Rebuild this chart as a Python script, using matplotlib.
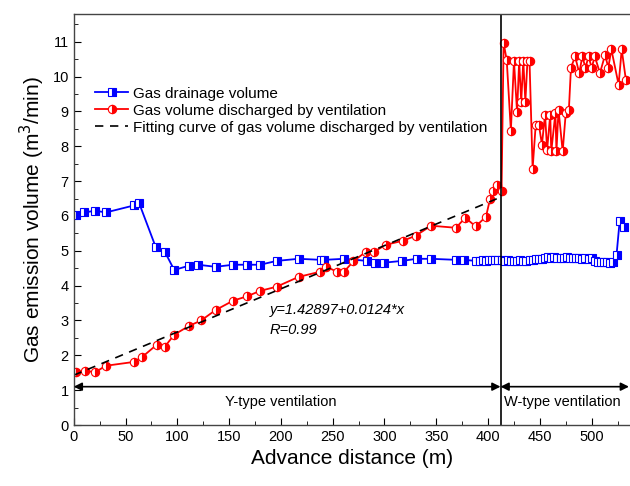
import numpy as np
import matplotlib.pyplot as plt
from matplotlib.ticker import MultipleLocator

plt.rcParams['font.family'] = ['Liberation Sans', 'DejaVu Sans']

# Gas drainage volume (blue)
drain_x = [2, 10, 21, 31, 58, 63, 79, 88, 97, 111, 120, 137, 154, 167, 180, 196, 217, 239, 242,
           261, 283, 291, 300, 317, 331, 345, 369, 377, 388, 392, 395, 398, 401, 404, 407, 410,
           413, 416, 419, 422, 425, 428, 431, 434, 437, 440, 443, 446, 449, 452, 455, 458, 461,
           464, 467, 470, 473, 476, 479, 482, 485, 488, 491, 494, 497, 500, 503, 506, 509, 512,
           515, 518, 521, 524, 527, 531]
drain_y = [6.03, 6.1, 6.15, 6.1, 6.3, 6.38, 5.12, 4.97, 4.45, 4.57, 4.6, 4.54, 4.6, 4.6, 4.6,
           4.71, 4.77, 4.74, 4.74, 4.77, 4.71, 4.66, 4.66, 4.71, 4.77, 4.77, 4.74, 4.74, 4.71,
           4.72, 4.73, 4.72, 4.74, 4.73, 4.74, 4.73, 4.74, 4.72, 4.73, 4.72, 4.71, 4.72, 4.73,
           4.71, 4.72, 4.73, 4.74, 4.76, 4.75, 4.77, 4.79, 4.82, 4.8, 4.81, 4.78, 4.8, 4.79,
           4.81, 4.78, 4.79, 4.8, 4.78, 4.77, 4.79, 4.76, 4.78, 4.7, 4.68, 4.69, 4.67, 4.68,
           4.66, 4.68, 4.88, 5.85, 5.68]

# Gas volume discharged by ventilation (red)
vent_x = [2, 11, 21, 31, 58, 66, 80, 88, 97, 111, 123, 137, 154, 167, 180, 196, 217, 238, 244,
          254, 261, 270, 282, 290, 301, 318, 330, 345, 369, 378, 388, 398, 402, 405, 409, 413,
          415, 418, 422, 425, 428, 430, 432, 434, 436, 438, 440, 443, 446, 449, 452, 455, 457,
          460, 461, 465, 466, 468, 472, 475, 478, 480, 484, 488, 491, 494, 497, 500, 503, 508,
          513, 516, 519, 526, 529, 533]
vent_y = [1.52, 1.55, 1.52, 1.7, 1.81, 1.95, 2.3, 2.25, 2.59, 2.84, 3.0, 3.3, 3.57, 3.69, 3.85,
          3.97, 4.25, 4.4, 4.54, 4.4, 4.4, 4.7, 4.97, 4.97, 5.17, 5.29, 5.43, 5.72, 5.66, 5.95,
          5.7, 5.98, 6.5, 6.72, 6.88, 6.72, 10.97, 10.47, 8.45, 10.45, 8.97, 10.45, 9.28, 10.45,
          9.28, 10.45, 10.45, 7.36, 8.62, 8.62, 8.05, 8.91, 7.9, 8.91, 7.85, 8.96, 7.85, 9.05,
          7.85, 8.96, 9.05, 10.25, 10.58, 10.1, 10.58, 10.25, 10.58, 10.25, 10.58, 10.1, 10.63,
          10.25, 10.78, 9.77, 10.78, 9.91]

# linear fit of ventilation volume (Y-type stage)
fit_a, fit_b = 1.42897, 0.0124
fit_x = np.array([0, 410])
switch_x = 412

fig = plt.figure(figsize=(6.3, 4.86), dpi=100)
ax = fig.add_axes([0.117, 0.1255, 0.883, 0.846])

ax.plot(drain_x, drain_y, color='#0000ff', lw=1.3, marker='s', ms=5.5, fillstyle='right',
        markerfacecoloralt='white', markeredgecolor='#0000ff', markeredgewidth=0.8,
        label='Gas drainage volume')
ax.plot(vent_x, vent_y, color='#ff0000', lw=1.3, marker='o', ms=6, fillstyle='right',
        markerfacecoloralt='white', markeredgecolor='#ff0000', markeredgewidth=0.8,
        label='Gas volume discharged by ventilation')
ax.plot(fit_x, fit_a + fit_b * fit_x, color='black', ls=(0, (5, 4)), lw=1.2,
        label='Fitting curve of gas volume discharged by ventilation')

ax.axvline(switch_x, color='black', lw=1.2)

xmax = 537
arrow = dict(arrowstyle='<|-|>', color='black', lw=1.2, mutation_scale=12, shrinkA=0, shrinkB=0)
ax.annotate('', xy=(0, 1.1), xytext=(switch_x, 1.1), arrowprops=arrow)
ax.annotate('', xy=(switch_x, 1.1), xytext=(xmax - 1, 1.1), arrowprops=arrow)
ax.text(200, 0.67, 'Y-type ventilation', ha='center', va='center', fontsize=10.5)
ax.text(472, 0.67, 'W-type ventilation', ha='center', va='center', fontsize=10.5)

ax.text(189, 3.3, 'y=1.42897+0.0124*x', fontsize=10.5, style='italic', va='center')
ax.text(189, 2.73, 'R=0.99', fontsize=10.5, style='italic', va='center')

ax.set_xlim(0, xmax)
ax.set_ylim(0, 11.8)
ax.xaxis.set_major_locator(MultipleLocator(50))
ax.xaxis.set_minor_locator(MultipleLocator(25))
ax.yaxis.set_major_locator(MultipleLocator(1))
ax.yaxis.set_minor_locator(MultipleLocator(0.5))
ax.tick_params(which='both', direction='in', labelsize=10.5)
ax.tick_params(which='major', length=5)
ax.tick_params(which='minor', length=3)
ax.spines['right'].set_visible(False)
for s in ax.spines.values():
    s.set_linewidth(1.0)
    s.set_color('#444444')

ax.set_xlabel('Advance distance (m)', fontsize=15)
ax.set_ylabel('Gas emission volume (m$^3$/min)', fontsize=15)

ax.legend(loc='upper left', bbox_to_anchor=(0.016, 0.853), frameon=False, fontsize=11,
          handlelength=2.2, handletextpad=0.3, labelspacing=0.2, borderpad=0.3)

fig.savefig('out.png', dpi=100)
